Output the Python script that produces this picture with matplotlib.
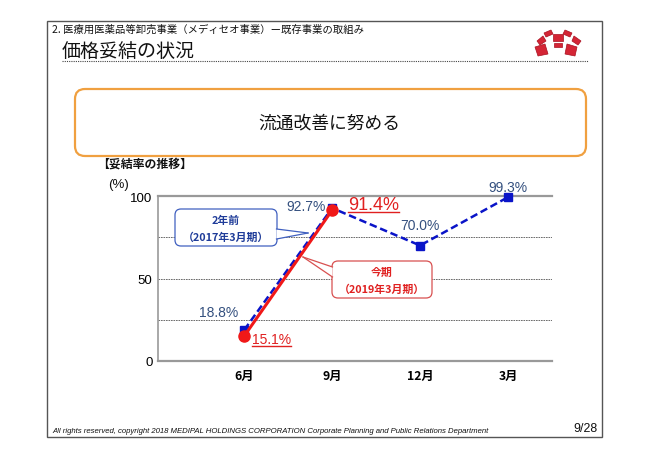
import numpy as np
import matplotlib
matplotlib.use("Agg")
import matplotlib.pyplot as plt
from matplotlib.patches import FancyBboxPatch, Rectangle, Polygon
from matplotlib.lines import Line2D

# ---------------- data ----------------
categories = ["6月", "9月", "12月", "3月"]
prev_values = [18.8, 92.7, 70.0, 99.3]   # 2年前（2017年3月期）
curr_values = [15.1, 91.4]               # 今期（2019年3月期）
prev_labels = ["18.8%", "92.7%", "70.0%", "99.3%"]
curr_labels = ["15.1%", "91.4%"]
yticks = [0, 50, 100]

JP = ["Noto Sans CJK JP", "DejaVu Sans"]
NUM = ["Liberation Sans", "DejaVu Sans"]
plt.rcParams["font.family"] = JP

W, H = 650, 460
fig = plt.figure(figsize=(W / 100, H / 100), dpi=100)
fig.patch.set_facecolor("white")

# background axes in pixel coordinates (decorations)
bg = fig.add_axes([0, 0, 1, 1], zorder=0)
bg.set_xlim(0, W)
bg.set_ylim(H, 0)
bg.axis("off")

# slide frame
bg.add_patch(Rectangle((47, 22), 555, 416, fill=False, edgecolor="#555555", lw=1.0))
bg.text(52, 30, "2. 医療用医薬品等卸売事業（メディセオ事業）ー既存事業の取組み",
        fontsize=7.45, va="center", ha="left", color="#111111")
bg.text(62, 51, "価格妥結の状況", fontsize=13.7, va="center", ha="left", color="#111111")
bg.add_line(Line2D([62, 588], [62, 62], color="#444444", lw=0.8, ls=(0, (1, 1))))

# logo
logo = [
    [(553, 35), (563, 35), (563, 42), (553, 42)],
    [(544, 34), (551, 31), (553, 35), (546, 38)],
    [(565, 31), (572, 34), (570, 38), (563, 35)],
    [(537, 42), (543, 37), (546, 42), (540, 46)],
    [(574, 37), (581, 42), (578, 46), (572, 42)],
    [(554, 44), (562, 44), (562, 48), (554, 48)],
    [(535, 48), (545, 45), (548, 55), (538, 57)],
    [(567, 45), (577, 48), (575, 57), (565, 55)],
]
for poly in logo:
    bg.add_patch(Polygon(poly, closed=True, facecolor="#D42535", edgecolor="#A81020", lw=0.5))

# orange message box
bg.add_patch(FancyBboxPatch((75, 90), 511, 67, boxstyle="round,pad=0,rounding_size=10",
                            facecolor="white", edgecolor="#F0A040", lw=1.6))
bg.text(329, 123, "流通改善に努める", fontsize=12.8, va="center", ha="center", color="#111111")

bg.text(97, 164, "【妥結率の推移】", fontsize=8.6, va="center", ha="left",
        color="#111111", fontweight="bold")
bg.text(108, 185, "(%)", fontsize=9.5, va="center", ha="left", color="#111111", family=NUM)

# footer
bg.text(52, 432, "All rights reserved, copyright 2018 MEDIPAL HOLDINGS CORPORATION Corporate Planning and Public Relations Department",
        fontsize=5.6, style="italic", va="center", ha="left", color="#111111", family=NUM)
bg.text(597, 429, "9/28", fontsize=8.9, va="center", ha="right", color="#111111", family=NUM)

# ---------------- chart ----------------
L, R, T, B = 158, 552, 197, 362
ax = fig.add_axes([L / W, (H - B) / H, (R - L) / W, (B - T) / H], zorder=1)
ax.patch.set_alpha(0)
x_prev = np.arange(len(prev_values))
x_curr = np.arange(len(curr_values))
ax.set_xlim(-0.98, 3.5)
ax.set_ylim(0, 100)

for yv in [25, 50, 75]:
    ax.axhline(yv, color="#555555", lw=0.6, ls=(0, (2, 1)), zorder=1)
ax.axhline(100, color="#999999", lw=1.6, zorder=1, clip_on=False)

for s in ["top", "right"]:
    ax.spines[s].set_visible(False)
ax.spines["left"].set_color("#999999")
ax.spines["left"].set_linewidth(1.2)
ax.spines["bottom"].set_color("#999999")
ax.spines["bottom"].set_linewidth(1.6)

ax.set_yticks(yticks)
ax.set_yticklabels([str(v) for v in yticks], fontsize=9.5, family=NUM)
ax.tick_params(axis="y", length=0, pad=4)
ax.set_xticks(x_prev)
ax.set_xticklabels(categories, fontsize=8.8, fontweight="bold")
ax.tick_params(axis="x", length=0, pad=6)

ax.plot(x_prev, prev_values, color="#0A14C8", lw=1.8, ls=(0, (3, 1.5)),
        marker="s", markersize=6, markerfacecolor="#0A14C8", markeredgecolor="#0A14C8",
        zorder=3, clip_on=False)
ax.plot(x_curr, curr_values, color="#F01818", lw=2.2, marker="o", markersize=8,
        markerfacecolor="#F01818", markeredgecolor="#F01818", zorder=4, clip_on=False)

BLUE_TXT = "#34507F"
RED_TXT = "#E02020"
prev_off = [(-26, 18, "center"), (-6, 2, "right"), (0, 20, "center"), (0, 10, "center")]
for xi, yi, lab, (dx, dy, ha) in zip(x_prev, prev_values, prev_labels, prev_off):
    ax.annotate(lab, (xi, yi), xytext=(dx * 0.72, dy * 0.72), textcoords="offset points",
                ha=ha, va="center", fontsize=10, color=BLUE_TXT, family=NUM, zorder=5)

curr_off = [(27, -3, "center", 10), (16, 6, "left", 13)]
curr_texts = []
for xi, yi, lab, (dx, dy, ha, fs) in zip(x_curr, curr_values, curr_labels, curr_off):
    t = ax.annotate(lab, (xi, yi), xytext=(dx * 0.72, dy * 0.72), textcoords="offset points",
                    ha=ha, va="center", fontsize=fs, color=RED_TXT, family=NUM, zorder=5)
    curr_texts.append(t)

# ---------------- callouts (overlay, pixel coords) ----------------
ov = fig.add_axes([0, 0, 1, 1], zorder=2)
ov.set_xlim(0, W)
ov.set_ylim(H, 0)
ov.axis("off")
ov.patch.set_alpha(0)


def callout(x0, y0, x1, y1, base, tip, ec, lines, tc):
    ov.add_patch(FancyBboxPatch((x0, y0), x1 - x0, y1 - y0,
                                boxstyle="round,pad=0,rounding_size=6",
                                facecolor="white", edgecolor=ec, lw=0.9, zorder=2))
    (bx1, by1), (bx2, by2) = base
    ov.add_patch(Polygon([(bx1, by1), tip, (bx2, by2)], closed=True,
                         facecolor="white", edgecolor="none", zorder=3))
    ov.add_line(Line2D([bx1, tip[0]], [by1, tip[1]], color=ec, lw=0.9, zorder=4))
    ov.add_line(Line2D([bx2, tip[0]], [by2, tip[1]], color=ec, lw=0.9, zorder=4))
    cx = (x0 + x1) / 2
    ov.text(cx, y0 + (y1 - y0) * 0.30, lines[0], ha="center", va="center",
            fontsize=7.8, color=tc, fontweight="bold", zorder=5)
    ov.text(cx, y0 + (y1 - y0) * 0.75, lines[1], ha="center", va="center",
            fontsize=7.8, color=tc, fontweight="bold", zorder=5)


callout(175, 210, 277, 247, [(276.5, 230), (276.5, 240)], (308, 234), "#4060C0",
        ["2年前", "（2017年3月期）"], "#1F3C99")
callout(332, 262, 432, 299, [(332.5, 268), (332.5, 278)], (303, 258), "#D85050",
        ["今期", "（2019年3月期）"], "#E02020")

# underline red labels
fig.canvas.draw()
renderer = fig.canvas.get_renderer()
for t in curr_texts:
    bb = t.get_window_extent(renderer)
    yline = bb.y0 + 0.5
    fig.add_artist(Line2D([bb.x0 / W, bb.x1 / W], [yline / H, yline / H],
                          transform=fig.transFigure, color=RED_TXT, lw=1.0, zorder=6))

fig.savefig("out.png", dpi=100, facecolor="white")
